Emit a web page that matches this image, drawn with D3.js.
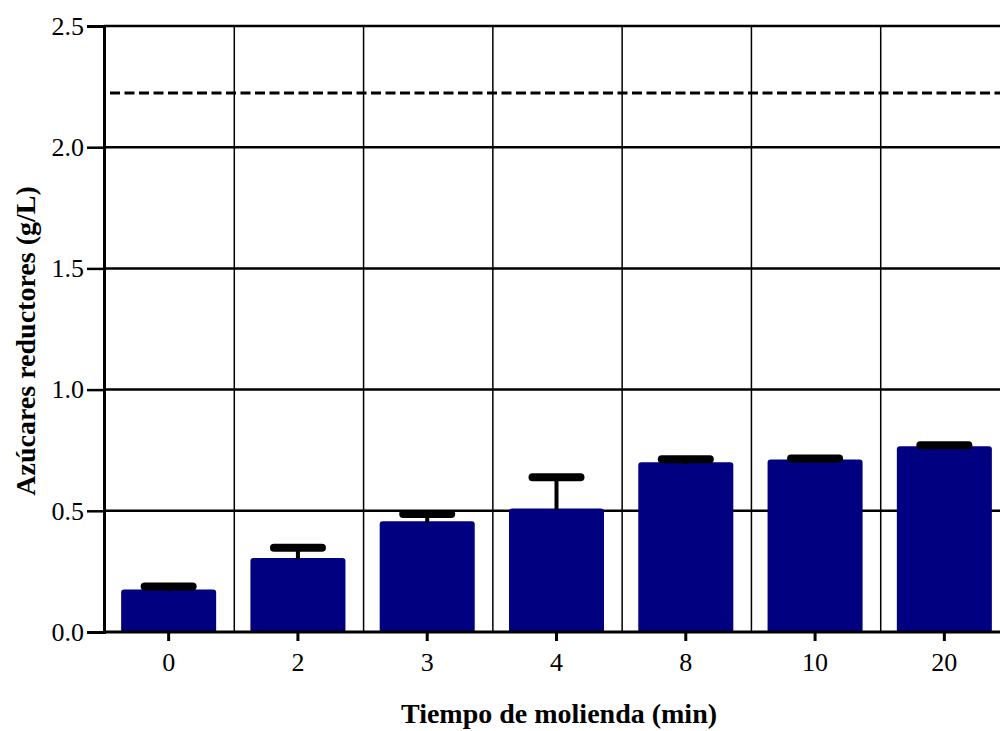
<!DOCTYPE html>
<html>
<head>
<meta charset="utf-8">
<script src="https://cdn.jsdelivr.net/npm/d3@7"></script>
<style>
  body { margin: 0; background: #fff; }
  svg text { font-family: "Liberation Serif", "Times New Roman", Times, serif; }
</style>
</head>
<body>
<div id="chart"></div>
<script>
const categories = ['0', '2', '3', '4', '8', '10', '20'];
const means = [0.175, 0.305, 0.457, 0.51, 0.70, 0.712, 0.766];
const errors = [0.013, 0.043, 0.03, 0.128, 0.013, 0.004, 0.004];
const yTicks = [0.0, 0.5, 1.0, 1.5, 2.0, 2.5];
const reference = 2.224;

const width = 1000, height = 731;
const margin = {top: 26, left: 104, bottom: 99};
const serif = '"Liberation Serif", "Times New Roman", Times, serif';

const svg = d3.select('#chart').append('svg')
    .attr('width', width)
    .attr('height', height);

const x = d3.scaleBand()
    .domain(categories)
    .range([margin.left, 1009])
    .paddingInner(0.265)
    .paddingOuter(0.1325);

const y = d3.scaleLinear()
    .domain([0, 2.5])
    .range([height - margin.bottom, margin.top]);

// horizontal grid
svg.selectAll('.hgrid').data(yTicks.slice(1)).enter()
    .append('line')
    .attr('class', 'hgrid')
    .attr('x1', margin.left).attr('x2', width)
    .attr('y1', y).attr('y2', y)
    .attr('stroke', '#000')
    .attr('stroke-width', 2.5);

// vertical grid between categories
svg.selectAll('.vgrid').data(categories.slice(1)).enter()
    .append('line')
    .attr('class', 'vgrid')
    .attr('x1', d => x(d) - x.step() * x.paddingInner() / 2 + 1)
    .attr('x2', d => x(d) - x.step() * x.paddingInner() / 2 + 1)
    .attr('y1', y(2.5)).attr('y2', y(0))
    .attr('stroke', '#000')
    .attr('stroke-width', 1.5);

// dashed reference line
svg.append('line')
    .attr('x1', margin.left + 6).attr('x2', width)
    .attr('y1', y(reference)).attr('y2', y(reference))
    .attr('stroke', '#000')
    .attr('stroke-width', 3)
    .attr('stroke-dasharray', '10,4.5');

// bars
svg.selectAll('.bar').data(categories).enter()
    .append('rect')
    .attr('class', 'bar')
    .attr('x', d => x(d))
    .attr('width', x.bandwidth())
    .attr('y', (d, i) => y(means[i]))
    .attr('height', (d, i) => y(0) - y(means[i]) + 1)
    .attr('rx', 3)
    .attr('fill', '#000080');

// error bars (upper only)
const eb = svg.selectAll('.err').data(categories).enter()
    .append('g').attr('class', 'err');
eb.append('line')
    .attr('x1', d => x(d) + x.bandwidth() / 2)
    .attr('x2', d => x(d) + x.bandwidth() / 2)
    .attr('y1', (d, i) => y(means[i]))
    .attr('y2', (d, i) => y(means[i] + errors[i]))
    .attr('stroke', '#000')
    .attr('stroke-width', 4)
    .attr('stroke-linecap', 'round');
eb.append('line')
    .attr('x1', d => x(d) + x.bandwidth() / 2 - 24)
    .attr('x2', d => x(d) + x.bandwidth() / 2 + 24)
    .attr('y1', (d, i) => y(means[i] + errors[i]))
    .attr('y2', (d, i) => y(means[i] + errors[i]))
    .attr('stroke', '#000')
    .attr('stroke-width', 8)
    .attr('stroke-linecap', 'round');

// y axis
const yAxis = svg.append('g')
    .attr('transform', `translate(${margin.left},0)`)
    .call(d3.axisLeft(y).tickValues(yTicks).tickFormat(d3.format('.1f')).tickSize(17).tickPadding(3));
yAxis.attr('font-family', serif).attr('font-size', 26);
yAxis.select('.domain').attr('stroke-width', 3);
yAxis.selectAll('.tick line').attr('stroke-width', 2.5);
yAxis.selectAll('.tick text').attr('fill', '#000');

// x axis
const xAxis = svg.append('g')
    .attr('transform', `translate(0,${y(0)})`)
    .call(d3.axisBottom(x).tickSize(9).tickPadding(12).tickSizeOuter(0));
xAxis.attr('font-family', serif).attr('font-size', 26);
xAxis.select('.domain').attr('stroke-width', 3).attr('d', `M${margin.left},0H${width}`);
xAxis.selectAll('.tick line').attr('stroke-width', 3);
xAxis.selectAll('.tick text').attr('fill', '#000');

// axis titles
svg.append('text')
    .attr('x', 559).attr('y', 723)
    .attr('text-anchor', 'middle')
    .attr('font-family', serif)
    .attr('font-weight', 'bold')
    .attr('font-size', 28)
    .text('Tiempo de molienda (min)');

svg.append('text')
    .attr('transform', 'translate(35,341) rotate(-90)')
    .attr('text-anchor', 'middle')
    .attr('font-family', serif)
    .attr('font-weight', 'bold')
    .attr('font-size', 28)
    .text('Azúcares reductores (g/L)');
</script>
</body>
</html>
